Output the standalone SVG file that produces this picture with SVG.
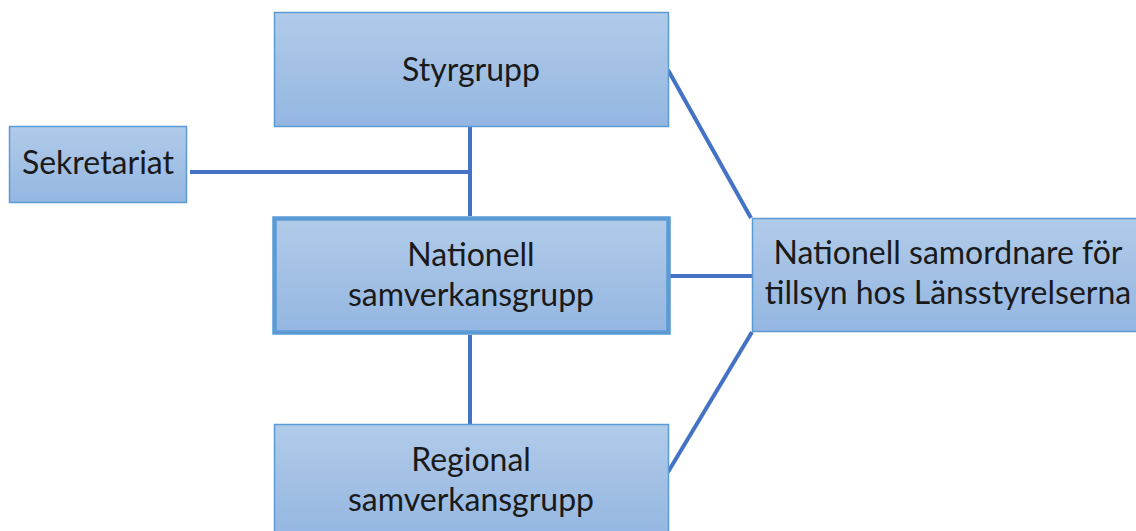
<svg xmlns="http://www.w3.org/2000/svg" width="1136" height="531" viewBox="0 0 1136 531">
<defs>
<linearGradient id="g" x1="0" y1="0" x2="0" y2="1">
<stop offset="0" stop-color="#b1cbe9"/>
<stop offset="1" stop-color="#94b6e1"/>
</linearGradient>
<style>
.box{fill:url(#g);stroke:#5b9bd5;stroke-width:1.5}
.thick{stroke-width:4.5}
.t{font-family:Lato,"Open Sans",sans-serif;font-size:32px;fill:#1a1a1a;text-anchor:middle}
.c{stroke:#4472c4;stroke-width:4;fill:none}
</style>
</defs>
<rect width="1136" height="531" fill="#ffffff"/>
<g id="connectors">
<line class="c" x1="470" y1="127" x2="470" y2="216"/>
<line class="c" x1="190" y1="172" x2="470" y2="172"/>
<line class="c" x1="470" y1="335" x2="470" y2="424"/>
<line class="c" x1="670" y1="276" x2="752" y2="276"/>
<line class="c" x1="668" y1="70" x2="751" y2="218"/>
<line class="c" x1="668" y1="472" x2="752" y2="332"/>
</g>
<g id="styrgrupp">
<rect class="box" x="274.5" y="12.5" width="394" height="114"/>
<text class="t" x="471" y="81">Styrgrupp</text>
</g>
<g id="sekretariat">
<rect class="box" x="9.5" y="126.5" width="177" height="76"/>
<text class="t" x="98" y="174">Sekretariat</text>
</g>
<g id="nationell">
<rect class="box thick" x="274.5" y="218.5" width="394" height="114"/>
<text class="t" x="471" y="266">Nationell</text>
<text class="t" x="471" y="306">samverkansgrupp</text>
</g>
<g id="regional">
<rect class="box" x="274.5" y="424.5" width="394" height="114"/>
<text class="t" x="471" y="471">Regional</text>
<text class="t" x="471" y="511">samverkansgrupp</text>
</g>
<g id="samordnare">
<rect class="box" x="752.5" y="218.5" width="394" height="113"/>
<text class="t" x="948" y="264">Nationell samordnare för</text>
<text class="t" x="948" y="304">tillsyn hos Länsstyrelserna</text>
</g>
</svg>
